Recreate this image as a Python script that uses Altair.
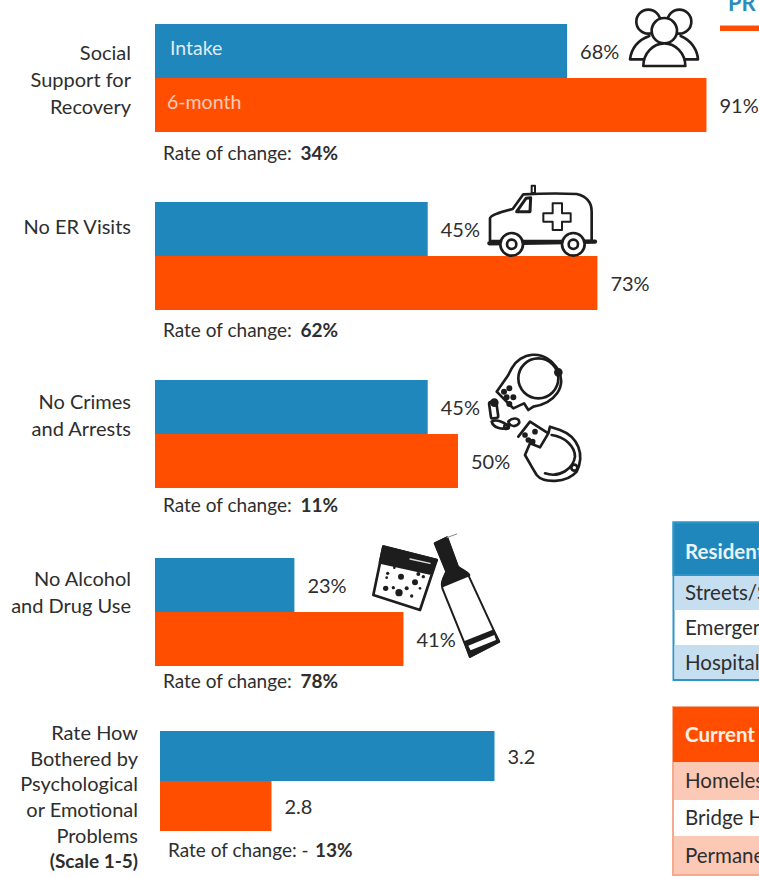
import base64
import altair as alt
import pandas as pd

FONT = "Lato"
INK = "#2e2e2e"
BLUE = "#1f87bb"
ORANGE = "#ff4e00"

# Outcome measures, top to bottom
metrics = ["social", "er", "crime", "substance", "bothered"]
periods = ["Intake", "6-month"]
intake_values = [68, 45, 45, 23, 3.2]
six_month_values = [91, 73, 50, 41, 2.8]
rate_prefix = ["Rate of change: "] * 4 + ["Rate of change: -"]
rate_bold = ["34%", "62%", "11%", "78%", "13%"]
row_labels = [
    "Social\nSupport for\nRecovery",
    "No ER Visits",
    "No Crimes\nand Arrests",
    "No Alcohol\nand Drug Use",
    "Rate How\nBothered by\nPsychological\nor Emotional\nProblems",
]

# Pixel bands of each measure on the page
bands = [(24, 132), (202, 310), (380, 488), (558, 666), (731, 831)]
label_tops = [54, 228, 403, 580, 734]
rate_lines = [154, 331, 506, 682, 851]
pct_scale = alt.Scale(domain=[0, 100], range=[155, 761], clamp=True)
score_scale = alt.Scale(domain=[2.6, 3.4], range=[160, 606], clamp=True)

residence_rows = ["Streets/Shelter", "Emergency", "Hospital"]
current_rows = ["Homeless", "Bridge Housing", "Permanent"]


def note(text, x, y, size=20, weight="normal", align="left", color=INK, baseline="middle", line_height=None, opacity=1):
    kwargs = dict(font=FONT, fontSize=size, fontWeight=weight, align=align, baseline=baseline, color=color, opacity=opacity)
    if line_height:
        kwargs.update(lineBreak="\n", lineHeight=line_height)
    return (
        alt.Chart(alt.Data(values=[{"t": text}]))
        .mark_text(**kwargs)
        .encode(text="t:N", x=alt.value(x), y=alt.value(y))
    )


def box(x, x2, y, y2, fill, stroke=None, width=0):
    kwargs = dict(fill=fill)
    if stroke:
        kwargs.update(stroke=stroke, strokeWidth=width)
    return (
        alt.Chart(alt.Data(values=[{"k": 1}]))
        .mark_rect(**kwargs)
        .encode(x=alt.value(x), x2=alt.value(x2), y=alt.value(y), y2=alt.value(y2))
    )


def icon(svg_body, x, y, w, h):
    svg = (
        f'<svg xmlns="http://www.w3.org/2000/svg" width="{w * 3}" height="{h * 3}" viewBox="0 0 {w * 3} {h * 3}">'
        f'<g fill="none" stroke="#1d1d1d" stroke-width="8" stroke-linejoin="round" stroke-linecap="round">{svg_body}</g></svg>'
    )
    url = "data:image/svg+xml;base64," + base64.b64encode(svg.encode()).decode()
    return (
        alt.Chart(alt.Data(values=[{"u": url}]))
        .mark_image(width=w, height=h, align="left", baseline="top")
        .encode(url="u:N", x=alt.value(x), y=alt.value(y))
    )


PEOPLE = """
<circle cx="265" cy="65" r="36"/><circle cx="358" cy="65" r="36"/>
<path d="M250 178 L210 178 C215 140 235 120 268 108"/>
<path d="M362 108 C395 122 412 150 414 178 L375 178"/>
<circle cx="313" cy="92" r="38" fill="#fff"/>
<path d="M250 198 C250 160 280 130 313 130 C346 130 376 160 376 198 Z" fill="#fff"/>
"""

AMBULANCE = """
<path d="M30 198 L30 130 C32 120 60 112 98 102 L130 58 C190 55 250 55 290 57 C325 65 335 85 335 110 L335 198 Z" fill="#fff"/>
<path d="M110 110 L138 70 L152 68 L150 110 Z" stroke-width="9"/>
<rect x="155" y="32" width="10" height="22" stroke-width="6"/>
<path d="M218 85 L246 85 L246 115 L272 115 L272 140 L246 140 L246 165 L218 165 L218 140 L190 140 L190 115 L218 115 Z" stroke-width="6"/>
<path d="M28 205 L345 200" stroke-width="13"/>
<circle cx="95" cy="208" r="34" fill="#fff"/><circle cx="95" cy="208" r="14" stroke-width="8"/>
<circle cx="280" cy="208" r="34" fill="#fff"/><circle cx="280" cy="208" r="14" stroke-width="8"/>
"""

HANDCUFFS = """
<circle cx="175" cy="115" r="60"/>
<path d="M95 85 C120 40 190 20 235 90 C260 140 225 190 160 200 L145 210 L132 190 L100 205 L50 155 L85 105 Z"/>
<circle cx="235" cy="97" r="9" fill="#1d1d1d"/>
<circle cx="72" cy="155" r="5" fill="#1d1d1d"/><circle cx="88" cy="145" r="5" fill="#1d1d1d"/>
<circle cx="80" cy="172" r="5" fill="#1d1d1d"/><circle cx="100" cy="172" r="5" fill="#1d1d1d"/><circle cx="88" cy="192" r="5" fill="#1d1d1d"/>
<rect x="30" y="185" width="22" height="50" rx="6" transform="rotate(-8 40 210)"/>
<circle cx="43" cy="188" r="9" fill="#1d1d1d"/>
<path d="M35 245 C50 235 80 250 85 262 C70 270 40 265 35 245 Z"/>
<path d="M85 245 C95 232 118 232 118 248 C110 262 90 262 85 245 Z"/>
<circle cx="80" cy="260" r="7"/>
<path d="M115 290 L150 245 L205 280 L180 322 L150 310 L135 345 L158 385 L170 405 C190 430 260 430 290 395 C315 345 295 290 240 270 L210 260 L205 280"/>
<path d="M195 400 C240 415 280 385 285 350 C285 320 255 290 215 285"/>
<circle cx="283" cy="383" r="9"/>
<circle cx="135" cy="285" r="4.5" fill="#1d1d1d"/><circle cx="165" cy="275" r="4.5" fill="#1d1d1d"/>
<circle cx="145" cy="300" r="4.5" fill="#1d1d1d"/><circle cx="158" cy="305" r="4.5" fill="#1d1d1d"/>
"""

BAG_AND_BOTTLE = """
<path d="M55 65 L215 105 L165 255 L25 210 Z" stroke-width="8" fill="#fff"/>
<path d="M55 65 L215 105 L195 145 L45 112 Z" fill="#1d1d1d"/>
<path d="M135 102 L195 115" stroke="#ddd" stroke-width="4"/>
<g fill="#1d1d1d" stroke="none">
<circle cx="108" cy="155" r="9"/><circle cx="150" cy="172" r="9"/><circle cx="102" cy="203" r="11"/>
<circle cx="62" cy="190" r="8"/><circle cx="125" cy="190" r="6"/><circle cx="160" cy="147" r="6"/>
<circle cx="85" cy="188" r="5"/><circle cx="140" cy="213" r="5"/><circle cx="68" cy="145" r="5"/>
<circle cx="175" cy="155" r="5"/><circle cx="88" cy="128" r="4"/><circle cx="65" cy="158" r="4"/>
<circle cx="165" cy="190" r="4"/>
</g>
<path d="M210 55 L246 38 L278 125 C290 135 305 140 312 155 L402 350 L315 395 L232 190 C228 170 238 155 245 140 Z" fill="#fff" stroke-width="6"/>
<path d="M210 55 L246 38 L278 125 C290 135 305 140 312 150 L232 183 C228 170 238 155 245 140 Z" fill="#1d1d1d"/>
<path d="M246 38 L275 27" stroke="#888" stroke-width="3"/>
<path d="M300 352 L385 318 L402 350 L315 395 Z" fill="#1d1d1d"/>
<path d="M310 362 L388 330 L393 345 L317 376 Z" fill="#fff" stroke="none"/>
"""

layers = []

# Paired bars and their value labels, one independent band scale per measure
for i, metric in enumerate(metrics):
    frame = pd.DataFrame(
        {
            "period": periods,
            "value": [intake_values[i], six_month_values[i]],
        }
    )
    is_score = metric == "bothered"
    frame["label"] = frame["value"].map(lambda v: f"{v:.1f}" if is_score else f"{v:.0f}%")
    x = alt.X("value:Q", scale=score_scale if is_score else pct_scale, axis=None)
    y = alt.Y(
        "period:N",
        axis=None,
        scale=alt.Scale(domain=periods, range=list(bands[i]), paddingInner=0, paddingOuter=0),
    )
    base = alt.Chart(frame)
    bars = base.mark_bar(size=bands[i][1] - bands[i][0] >> 1).encode(
        x=x,
        y=y,
        color=alt.Color("period:N", scale=alt.Scale(domain=periods, range=[BLUE, ORANGE]), legend=None),
    )
    labels = base.mark_text(font=FONT, fontSize=20, align="left", baseline="middle", dx=13, dy=2, color=INK).encode(
        x=x, y=y, text="label:N"
    )
    layers += [bars, labels]

# Series names inside the first pair of bars
layers.append(note("Intake", 170, 49, size=19.5, color="#ffffff", opacity=0.85))
layers.append(note("6-month", 167, 103, size=19.5, color="#ffffff", opacity=0.7))

# Measure names and the rate of change under each pair
for i, text in enumerate(row_labels):
    lh = 25.7 if i == 4 else 27
    right = 138 if i == 4 else 131
    layers.append(note(text, right, label_tops[i], align="right", line_height=lh))
    left = 168 if i == 4 else 163
    gap = 147 if i == 4 else 137.5
    layers.append(note(rate_prefix[i], left, rate_lines[i], size=19))
    layers.append(note(rate_bold[i], left + gap, rate_lines[i], size=19, weight="bold"))
layers.append(note("(Scale 1-5)", 138, 862, size=19, align="right", weight="bold"))

# Heading and rule at the top right
layers.append(note("PR", 728, 4, size=22, weight="bold", color="#2a8db8"))
layers.append(box(720, 765, 25.5, 31, ORANGE))

# Status tables on the right, running off the page edge
layers.append(box(673.5, 770, 522.5, 680, "#ffffff", "#2e95c8", 2))
layers.append(box(673.5, 770, 522.5, 575, BLUE, "#2e95c8", 2))
layers.append(box(674.5, 770, 576, 610, "#c5dff0"))
layers.append(box(674.5, 770, 645, 679, "#c5dff0"))
layers.append(box(673, 770, 707, 875, "#ffffff", "#f7a98d", 2))
layers.append(box(673, 770, 707, 762, ORANGE))
layers.append(box(674, 770, 762, 800, "#fcc9b6"))
layers.append(box(674, 770, 836, 874, "#fcc9b6"))
layers.append(note("Residential", 685, 553, size=20.5, weight="bold", color="#e8f4fa"))
layers.append(note("Current", 685, 736, size=20.5, weight="bold", color="#fff1ea"))
for text, y in zip(residence_rows, [594, 629, 664]):
    layers.append(note(text, 685, y, size=20.5))
for text, y in zip(current_rows, [782, 819, 857]):
    layers.append(note(text, 685, y, size=20.5))

# Pictograms beside the bars
layers.append(icon(PEOPLE, 560, 0, 199, 130))
layers.append(icon(AMBULANCE, 480, 175, 125, 90))
layers.append(icon(HANDCUFFS, 480, 340, 115, 155))
layers.append(icon(BAG_AND_BOTTLE, 365, 525, 145, 140))

chart = (
    alt.layer(*layers)
    .resolve_scale(x="independent", y="independent", color="independent")
    .properties(width=759, height=877, padding=0, background="#ffffff", autosize=alt.AutoSizeParams(type="none"))
    .configure_view(stroke=None)
)

chart.save("out.html", embed_options={"renderer": "svg", "actions": False})
